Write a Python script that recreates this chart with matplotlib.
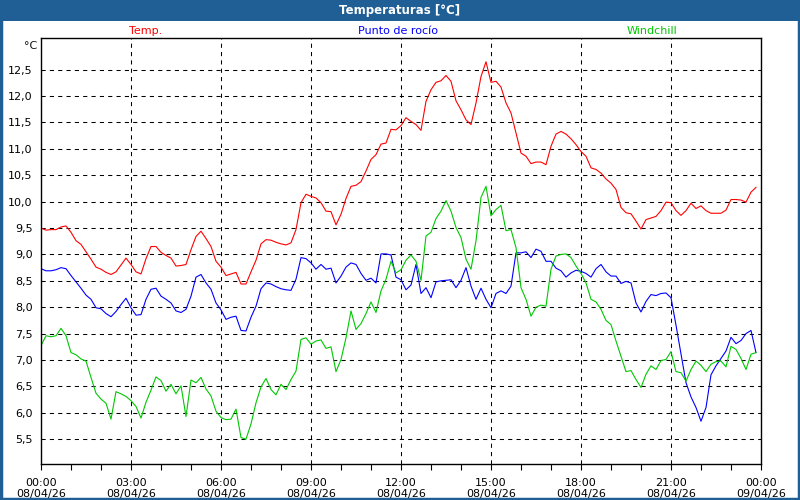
import numpy as np
import matplotlib.pyplot as plt
from matplotlib.patches import Rectangle

# Datos cada 10 minutos, 08/04/26 00:00 - 23:50
temp = [9.50, 9.46, 9.47, 9.47, 9.52, 9.54, 9.42, 9.26, 9.19, 9.05, 8.91, 8.76, 8.72, 8.66, 8.62, 8.67, 8.80, 8.93, 8.81, 8.67,
        8.63, 8.92, 9.15, 9.15, 9.04, 8.98, 8.93, 8.78, 8.79, 8.81, 9.09, 9.34, 9.44, 9.30, 9.15, 8.87, 8.76, 8.60, 8.63, 8.66,
        8.44, 8.44, 8.67, 8.89, 9.20, 9.28, 9.27, 9.23, 9.20, 9.18, 9.22, 9.47, 9.98, 10.14, 10.10, 10.07, 9.98, 9.82, 9.81, 9.56,
        9.76, 10.06, 10.29, 10.31, 10.38, 10.58, 10.80, 10.89, 11.09, 11.11, 11.37, 11.36, 11.44, 11.59, 11.52, 11.46, 11.35, 11.90, 12.12, 12.26,
        12.29, 12.39, 12.28, 11.91, 11.74, 11.55, 11.46, 11.87, 12.37, 12.65, 12.26, 12.28, 12.17, 11.87, 11.68, 11.30, 10.92, 10.86, 10.72, 10.75,
        10.75, 10.70, 11.05, 11.28, 11.33, 11.28, 11.19, 11.08, 10.95, 10.86, 10.64, 10.61, 10.54, 10.43, 10.35, 10.23, 9.89, 9.79, 9.77, 9.63,
        9.48, 9.66, 9.69, 9.72, 9.83, 9.99, 9.98, 9.83, 9.74, 9.83, 9.97, 9.87, 9.92, 9.83, 9.78, 9.78, 9.78, 9.84, 10.04, 10.04,
        10.03, 9.99, 10.18, 10.27]

rocio = [8.73, 8.69, 8.69, 8.71, 8.75, 8.73, 8.60, 8.48, 8.36, 8.23, 8.15, 7.99, 7.97, 7.88, 7.82, 7.92, 8.05, 8.17, 7.99, 7.85,
         7.86, 8.15, 8.34, 8.36, 8.21, 8.15, 8.08, 7.93, 7.90, 7.96, 8.21, 8.57, 8.62, 8.46, 8.34, 8.08, 7.95, 7.77, 7.81, 7.83,
         7.56, 7.55, 7.81, 8.02, 8.35, 8.46, 8.44, 8.39, 8.35, 8.33, 8.32, 8.53, 8.94, 8.92, 8.84, 8.72, 8.81, 8.72, 8.74, 8.46,
         8.59, 8.76, 8.84, 8.81, 8.64, 8.51, 8.55, 8.46, 9.01, 9.01, 8.99, 8.57, 8.52, 8.33, 8.42, 8.81, 8.26, 8.37, 8.18, 8.48,
         8.50, 8.51, 8.52, 8.37, 8.51, 8.75, 8.40, 8.15, 8.36, 8.15, 7.99, 8.26, 8.31, 8.26, 8.40, 9.03, 9.03, 9.05, 8.94, 9.10,
         9.06, 8.87, 8.87, 8.74, 8.69, 8.57, 8.65, 8.70, 8.68, 8.64, 8.57, 8.73, 8.81, 8.67, 8.59, 8.59, 8.45, 8.49, 8.46, 8.08,
         7.91, 8.11, 8.24, 8.22, 8.26, 8.27, 8.18, 7.66, 7.11, 6.57, 6.30, 6.10, 5.84, 6.10, 6.72, 6.89, 7.03, 7.17, 7.43, 7.31,
         7.37, 7.50, 7.56, 7.14]

windchill = [7.27, 7.46, 7.44, 7.46, 7.60, 7.46, 7.14, 7.10, 7.02, 6.98, 6.67, 6.37, 6.26, 6.18, 5.88, 6.40, 6.36, 6.31, 6.23, 6.12,
             5.90, 6.20, 6.43, 6.68, 6.61, 6.41, 6.54, 6.36, 6.51, 5.93, 6.62, 6.57, 6.67, 6.45, 6.32, 6.03, 5.91, 5.87, 5.88, 6.07,
             5.53, 5.50, 5.79, 6.19, 6.49, 6.65, 6.44, 6.34, 6.54, 6.44, 6.63, 6.79, 7.39, 7.42, 7.30, 7.36, 7.38, 7.22, 7.25, 6.78,
             7.01, 7.42, 7.93, 7.58, 7.69, 7.88, 8.10, 7.90, 8.31, 8.53, 8.87, 8.65, 8.71, 8.89, 8.99, 8.87, 8.51, 9.35, 9.42, 9.68,
             9.82, 10.02, 9.82, 9.51, 9.32, 8.91, 8.72, 9.26, 10.08, 10.29, 9.73, 9.85, 9.93, 9.45, 9.47, 9.13, 8.37, 8.15, 7.83, 8.00,
             8.04, 8.02, 8.72, 8.97, 9.00, 9.01, 8.94, 8.78, 8.64, 8.46, 8.15, 8.10, 7.96, 7.75, 7.67, 7.36, 7.07, 6.78, 6.80, 6.63,
             6.48, 6.73, 6.89, 6.82, 6.99, 7.01, 7.16, 6.78, 6.76, 6.60, 6.82, 6.98, 6.90, 6.78, 6.92, 6.97, 6.98, 6.87, 7.26, 7.20,
             7.03, 6.82, 7.11, 7.14]

horas = np.arange(len(temp)) / 6.0

xticks = [0, 3, 6, 9, 12, 15, 18, 21, 24]
xlabels = ['00:00\n08/04/26', '03:00\n08/04/26', '06:00\n08/04/26', '09:00\n08/04/26',
           '12:00\n08/04/26', '15:00\n08/04/26', '18:00\n08/04/26', '21:00\n08/04/26',
           '00:00\n09/04/26']
yticks = [5.5, 6.0, 6.5, 7.0, 7.5, 8.0, 8.5, 9.0, 9.5, 10.0, 10.5, 11.0, 11.5, 12.0, 12.5]

azul = '#1F5F96'

fig = plt.figure(figsize=(8, 5), dpi=100, facecolor='white')

# barra del titulo y marco
fig.patches.append(Rectangle((0, 1 - 21 / 500), 1, 21 / 500, transform=fig.transFigure,
                             facecolor=azul, edgecolor='none', zorder=0))
fig.patches.append(Rectangle((0.001, 0.002), 0.998, 0.996, transform=fig.transFigure,
                             facecolor='none', edgecolor=azul, linewidth=2.5, zorder=5))
fig.text(0.5, 1 - 10.5 / 500, 'Temperaturas [°C]', color='white', fontsize=8.5,
         fontweight='bold', ha='center', va='center')

# leyenda en la cabecera
fig.text(146 / 800, 1 - 31 / 500, 'Temp.', color='#FF0000', fontsize=8, ha='center', va='center')
fig.text(398 / 800, 1 - 31 / 500, 'Punto de rocío', color='#0000FF', fontsize=8, ha='center', va='center')
fig.text(652 / 800, 1 - 31 / 500, 'Windchill', color='#00C800', fontsize=8, ha='center', va='center')
fig.text(31 / 800, 1 - 46 / 500, '°C', color='#111111', fontsize=8, ha='center', va='center')

ax = fig.add_axes([41 / 800, 36 / 500, 720 / 800, 426 / 500])
ax.plot(horas, temp, color='#FF0000', linewidth=0.8)
ax.plot(horas, rocio, color='#0000FF', linewidth=0.8)
ax.plot(horas, windchill, color='#00C800', linewidth=0.8)

ax.set_xlim(0, 24)
ax.set_ylim(5.03, 13.1)
ax.set_xticks(xticks)
ax.set_xticklabels(xlabels)
ax.set_xticks(range(25), minor=True)
ax.set_yticks(yticks)
ax.set_yticklabels([('%.1f' % v).replace('.', ',') for v in yticks])

ax.tick_params(axis='x', which='both', direction='out', length=4, width=0.8, labelsize=8, pad=6)
ax.tick_params(axis='y', length=0, labelsize=8, pad=6)
ax.grid(True, which='major', color='black', linestyle=(0, (4, 4)), linewidth=0.75)
for s in ax.spines.values():
    s.set_linewidth(1.0)
    s.set_color('black')

fig.savefig('out.png', dpi=100, facecolor='white')
